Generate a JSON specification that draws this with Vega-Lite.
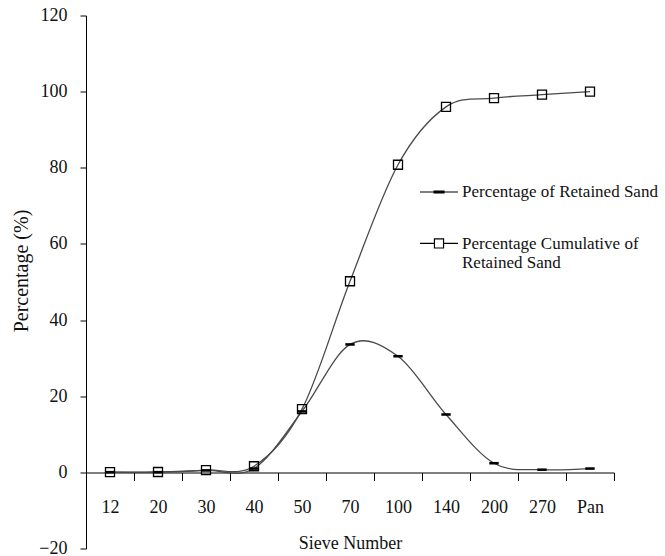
{
  "$schema": "https://vega.github.io/schema/vega-lite/v6.json",
  "width": 528,
  "height": 533,
  "autosize": {"type": "none"},
  "padding": {"left": 86, "top": 15.5, "right": 51, "bottom": 7.5},
  "background": "white",
  "config": {
    "view": {"stroke": null},
    "font": "Liberation Serif",
    "axis": {"domainColor": "black", "tickColor": "black", "labelColor": "#111", "titleColor": "#111", "grid": false, "labelFont": "Liberation Serif", "titleFont": "Liberation Serif", "titleFontWeight": "normal"},
    "legend": {"labelFont": "Liberation Serif"}
  },
  "data": {
    "values": [
      {"sieve": "12", "series": "Percentage of Retained Sand", "pct": 0.05},
      {"sieve": "20", "series": "Percentage of Retained Sand", "pct": 0.05},
      {"sieve": "30", "series": "Percentage of Retained Sand", "pct": 0.5},
      {"sieve": "40", "series": "Percentage of Retained Sand", "pct": 1.0},
      {"sieve": "50", "series": "Percentage of Retained Sand", "pct": 16.0},
      {"sieve": "70", "series": "Percentage of Retained Sand", "pct": 33.6},
      {"sieve": "100", "series": "Percentage of Retained Sand", "pct": 30.5},
      {"sieve": "140", "series": "Percentage of Retained Sand", "pct": 15.2},
      {"sieve": "200", "series": "Percentage of Retained Sand", "pct": 2.4},
      {"sieve": "270", "series": "Percentage of Retained Sand", "pct": 0.7},
      {"sieve": "Pan", "series": "Percentage of Retained Sand", "pct": 1.0},
      {"sieve": "12", "series": "Percentage Cumulative of Retained Sand", "pct": 0.05},
      {"sieve": "20", "series": "Percentage Cumulative of Retained Sand", "pct": 0.1},
      {"sieve": "30", "series": "Percentage Cumulative of Retained Sand", "pct": 0.6},
      {"sieve": "40", "series": "Percentage Cumulative of Retained Sand", "pct": 1.6},
      {"sieve": "50", "series": "Percentage Cumulative of Retained Sand", "pct": 16.6},
      {"sieve": "70", "series": "Percentage Cumulative of Retained Sand", "pct": 50.2},
      {"sieve": "100", "series": "Percentage Cumulative of Retained Sand", "pct": 80.8},
      {"sieve": "140", "series": "Percentage Cumulative of Retained Sand", "pct": 96.0},
      {"sieve": "200", "series": "Percentage Cumulative of Retained Sand", "pct": 98.3},
      {"sieve": "270", "series": "Percentage Cumulative of Retained Sand", "pct": 99.2},
      {"sieve": "Pan", "series": "Percentage Cumulative of Retained Sand", "pct": 100.0}
    ]
  },
  "encoding": {
    "x": {
      "field": "sieve",
      "type": "nominal",
      "sort": ["12", "20", "30", "40", "50", "70", "100", "140", "200", "270", "Pan"],
      "scale": {"type": "band", "paddingInner": 0, "paddingOuter": 0},
      "axis": {
        "title": "Sieve Number",
        "orient": "bottom",
        "offset": -76,
        "tickBand": "extent",
        "tickSize": 8,
        "labelAngle": 0,
        "labelPadding": 18,
        "labelFontSize": 18,
        "titleFontSize": 18,
        "titlePadding": 18
      }
    },
    "y": {
      "field": "pct",
      "type": "quantitative",
      "scale": {"domain": [-20, 120], "nice": false, "zero": false},
      "axis": {
        "title": "Percentage (%)",
        "values": [-20, 0, 20, 40, 60, 80, 100, 120],
        "tickSize": 6,
        "labelPadding": 13,
        "labelFontSize": 18,
        "titleFontSize": 20,
        "titleX": -55,
        "titleY": 255
      }
    }
  },
  "layer": [
    {
      "mark": {"type": "line", "interpolate": "cardinal", "stroke": "#4a4a4a", "strokeWidth": 1.3},
      "encoding": {"detail": {"field": "series"}}
    },
    {
      "mark": {"type": "point", "filled": false, "stroke": "black", "strokeWidth": 1.3, "size": 81, "opacity": 1},
      "encoding": {
        "shape": {
          "field": "series",
          "type": "nominal",
          "scale": {
            "domain": ["Percentage of Retained Sand", "Percentage Cumulative of Retained Sand"],
            "range": ["M-0.9,-0.14H0.9V0.14H-0.9Z", "square"]
          },
          "legend": null
        }
      }
    },
    {
      "mark": {"type": "point", "filled": false, "stroke": "black", "strokeWidth": 1.2, "size": 0},
      "encoding": {
        "shape": {
          "field": "series",
          "type": "nominal",
          "scale": {
            "domain": ["Percentage of Retained Sand", "Percentage Cumulative of Retained Sand"],
            "range": ["M-1,0H1M-0.26,-0.05H0.26V0.05H-0.26Z", "M-1,-0.03H-0.24M0.24,-0.03H1M-0.24,-0.27H0.24V0.21H-0.24Z"]
          },
          "legend": {
            "title": null,
            "orient": "none",
            "legendX": 333,
            "legendY": 156.5,
            "symbolSize": 1444,
            "symbolStrokeWidth": 1.2,
            "symbolStrokeColor": "black",
            "symbolFillColor": "transparent",
            "symbolOpacity": 1,
            "labelFontSize": 17,
            "labelColor": "#111",
            "labelLimit": 320,
            "labelOffset": 3,
            "rowPadding": 24,
            "labelExpr": "datum.label == 'Percentage Cumulative of Retained Sand' ? ['Percentage Cumulative of', 'Retained Sand'] : datum.label"
          }
        }
      }
    }
  ],
  "resolve": {"scale": {"shape": "independent"}, "legend": {"shape": "independent"}}
}
